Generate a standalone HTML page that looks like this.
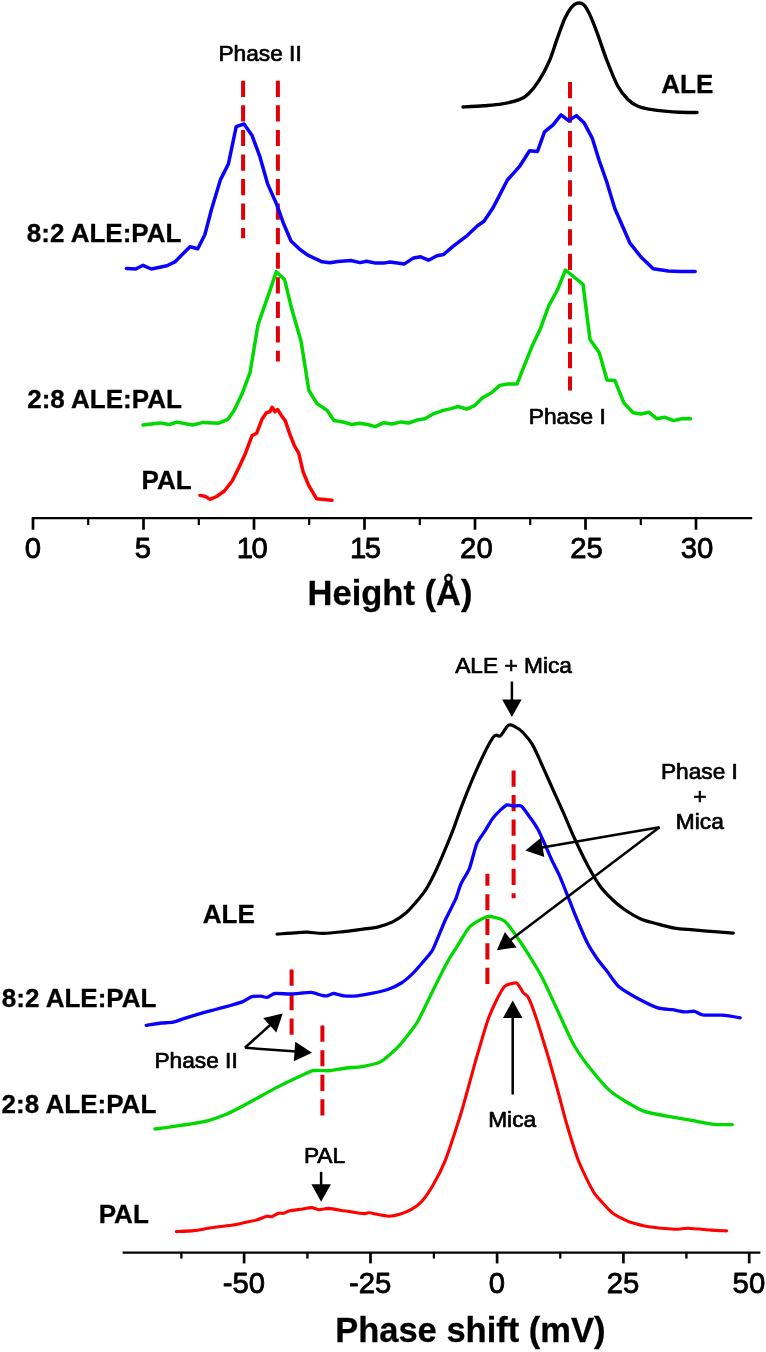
<!DOCTYPE html>
<html lang="en">
<head>
<meta charset="utf-8">
<title>AFM height and phase-shift histograms</title>
<style>
html,body{margin:0;padding:0;background:#fff;}
body{width:766px;height:1352px;overflow:hidden;}
svg{display:block;}
svg text{font-family:"Liberation Sans",Arial,Helvetica,sans-serif;fill:#000;}
</style>
</head>
<body>
<svg width="766" height="1352" viewBox="0 0 766 1352">
<rect x="0" y="0" width="766" height="1352" fill="#fff"/>
<line x1="243.1" y1="80.8" x2="243.1" y2="238.2" stroke="#e00008" stroke-width="4.0" stroke-dasharray="16.2 8.35" stroke-dashoffset="0"/>
<line x1="277.9" y1="80.8" x2="277.9" y2="361.5" stroke="#e00008" stroke-width="4.0" stroke-dasharray="16.2 8.35" stroke-dashoffset="0"/>
<line x1="570.0" y1="82.0" x2="570.0" y2="390.5" stroke="#e00008" stroke-width="4.0" stroke-dasharray="16.2 8.35" stroke-dashoffset="0"/>
<path d="M463.0,107.0 C466.5,106.8 477.5,106.2 484.0,105.7 C490.5,105.2 496.3,104.9 502.2,103.9 C508.1,102.9 514.9,101.4 519.2,99.7 C523.6,98.0 525.0,97.1 528.3,94.0 C531.6,90.9 535.3,86.3 538.8,80.9 C542.3,75.5 546.2,68.3 549.2,61.4 C552.2,54.4 554.4,46.4 557.0,39.2 C559.6,32.0 562.5,23.6 564.9,18.3 C567.3,13.0 569.3,9.8 571.4,7.3 C573.5,4.8 575.3,3.5 577.4,3.1 C579.5,2.7 581.7,2.8 583.7,4.7 C585.8,6.6 587.4,9.5 589.7,14.4 C592.0,19.3 594.7,26.3 597.5,33.9 C600.3,41.5 603.3,51.2 606.7,60.0 C610.1,68.8 614.4,79.8 618.0,86.5 C621.6,93.2 625.2,96.7 628.5,100.0 C631.8,103.3 634.6,104.8 638.0,106.3 C641.4,107.8 644.0,108.2 648.8,109.1 C653.6,109.9 661.8,110.9 667.0,111.4 C672.2,111.9 675.0,112.0 680.0,112.2 C685.0,112.4 694.2,112.5 697.0,112.5" fill="none" stroke="#000000" stroke-width="3.4" stroke-linejoin="round" stroke-linecap="round"/>
<polyline points="126.5,268.4 135.7,269.0 143.0,265.3 151.3,269.0 167.0,265.8 174.8,261.9 190.0,246.7 197.8,248.8 204.9,234.5 211.4,209.7 220.5,179.6 228.4,164.0 236.2,126.6 244.0,124.0 251.9,135.2 259.7,156.1 267.5,183.6 276.7,204.4 283.2,222.7 291.0,241.0 300.0,249.5 307.8,255.2 322.2,261.8 330.0,262.8 337.9,261.5 350.9,260.5 360.0,262.6 366.6,261.3 375.7,263.1 383.6,263.1 390.0,262.0 404.4,263.9 413.6,257.9 420.6,256.8 428.5,260.2 437.0,255.8 443.6,254.5 452.7,246.6 465.8,236.7 477.5,225.7 484.0,221.3 493.2,207.5 500.0,194.4 507.4,180.0 520.0,165.8 529.6,150.7 537.5,151.4 544.5,131.9 553.1,124.8 561.0,114.9 568.6,120.6 576.4,115.6 584.0,122.7 592.1,137.8 599.2,160.5 607.0,182.7 614.8,208.5 630.0,243.2 641.0,257.0 653.2,268.8 668.4,270.9 680.0,271.6 695.2,271.4" fill="none" stroke="#0a00ff" stroke-width="3.5" stroke-linejoin="round" stroke-linecap="round"/>
<polyline points="143.0,425.0 160.0,422.9 169.2,424.5 177.0,422.1 192.7,425.0 203.1,422.4 218.8,423.2 227.9,419.3 234.4,410.1 242.3,393.2 250.1,372.3 257.9,325.3 263.2,309.6 269.7,291.3 276.2,271.7 284.6,279.6 291.9,309.6 301.0,340.9 308.9,390.5 317.0,403.6 327.0,410.2 334.0,420.6 342.6,421.9 351.8,424.5 359.6,423.2 367.4,424.5 375.3,426.6 383.6,422.7 392.2,424.0 400.9,421.9 408.7,423.0 417.0,420.1 424.9,418.8 434.0,413.6 443.2,410.4 451.0,408.6 458.0,406.5 466.7,409.1 474.5,405.7 482.3,397.9 491.5,392.7 499.8,385.4 507.8,384.0 517.0,384.0 524.8,364.4 532.6,344.9 540.5,328.4 548.8,305.7 557.4,290.0 565.5,270.0 583.0,284.3 590.0,339.5 599.2,352.5 607.0,380.1 614.9,380.6 624.0,403.1 633.2,412.7 641.0,414.0 648.8,412.2 656.7,418.7 664.5,417.2 673.6,420.6 682.8,418.5 690.6,418.7" fill="none" stroke="#00d900" stroke-width="3.5" stroke-linejoin="round" stroke-linecap="round"/>
<polyline points="200.0,495.4 205.5,496.5 210.0,499.4 216.6,496.5 224.4,491.0 232.2,481.0 238.8,467.7 245.5,453.2 252.1,435.5 256.6,433.3 262.1,418.9 266.6,412.6 269.9,411.7 272.1,407.3 275.0,411.7 277.6,409.5 281.0,414.9 285.4,421.1 289.9,434.4 294.3,445.5 298.7,453.2 303.2,472.1 308.7,485.4 316.5,498.7 324.3,499.4 332.0,500.3" fill="none" stroke="#ff0000" stroke-width="3.5" stroke-linejoin="round" stroke-linecap="round"/>
<line x1="31.8" y1="518.1" x2="752.2" y2="518.1" stroke="#000" stroke-width="2.3"/>
<line x1="33.0" y1="518.1" x2="33.0" y2="529.7" stroke="#000" stroke-width="2.7"/>
<text transform="translate(32.8,558.3) scale(1.0,1.03)" font-size="29.3" stroke="#000" stroke-width="0.8" stroke-linejoin="round" text-anchor="middle">0</text>
<line x1="143.5" y1="518.1" x2="143.5" y2="529.7" stroke="#000" stroke-width="2.7"/>
<text transform="translate(142.8,558.3) scale(1.0,1.03)" font-size="29.3" stroke="#000" stroke-width="0.8" stroke-linejoin="round" text-anchor="middle">5</text>
<line x1="254.0" y1="518.1" x2="254.0" y2="529.7" stroke="#000" stroke-width="2.7"/>
<text letter-spacing="-1.5" transform="translate(251.6,558.3) scale(1.0,1.03)" font-size="29.3" stroke="#000" stroke-width="0.8" stroke-linejoin="round" text-anchor="middle">10</text>
<line x1="364.5" y1="518.1" x2="364.5" y2="529.7" stroke="#000" stroke-width="2.7"/>
<text letter-spacing="-1.5" transform="translate(364.7,558.3) scale(1.0,1.03)" font-size="29.3" stroke="#000" stroke-width="0.8" stroke-linejoin="round" text-anchor="middle">15</text>
<line x1="475.0" y1="518.1" x2="475.0" y2="529.7" stroke="#000" stroke-width="2.7"/>
<text transform="translate(476.4,558.3) scale(1.0,1.03)" font-size="29.3" stroke="#000" stroke-width="0.8" stroke-linejoin="round" text-anchor="middle">20</text>
<line x1="585.5" y1="518.1" x2="585.5" y2="529.7" stroke="#000" stroke-width="2.7"/>
<text transform="translate(586.6,558.3) scale(1.0,1.03)" font-size="29.3" stroke="#000" stroke-width="0.8" stroke-linejoin="round" text-anchor="middle">25</text>
<line x1="696.0" y1="518.1" x2="696.0" y2="529.7" stroke="#000" stroke-width="2.7"/>
<text transform="translate(697.0,558.3) scale(1.0,1.03)" font-size="29.3" stroke="#000" stroke-width="0.8" stroke-linejoin="round" text-anchor="middle">30</text>
<line x1="88.2" y1="518.1" x2="88.2" y2="525.1" stroke="#000" stroke-width="2.2"/>
<line x1="198.8" y1="518.1" x2="198.8" y2="525.1" stroke="#000" stroke-width="2.2"/>
<line x1="309.2" y1="518.1" x2="309.2" y2="525.1" stroke="#000" stroke-width="2.2"/>
<line x1="419.8" y1="518.1" x2="419.8" y2="525.1" stroke="#000" stroke-width="2.2"/>
<line x1="530.2" y1="518.1" x2="530.2" y2="525.1" stroke="#000" stroke-width="2.2"/>
<line x1="640.8" y1="518.1" x2="640.8" y2="525.1" stroke="#000" stroke-width="2.2"/>
<text transform="translate(390,605) scale(1.0,1.0)" font-size="34.5" font-weight="bold" stroke="#000" stroke-width="0.3" stroke-linejoin="round" text-anchor="middle">Height (Å)</text>
<text transform="translate(218.4,60.5) scale(1.015,0.98)" font-size="22.4" stroke="#000" stroke-width="0.7" stroke-linejoin="round" text-anchor="start">Phase II</text>
<text transform="translate(528.8,424) scale(1.015,0.98)" font-size="22.4" stroke="#000" stroke-width="0.7" stroke-linejoin="round" text-anchor="start">Phase I</text>
<text transform="translate(26.8,241.7) scale(1.005,1.0)" font-size="25.9" font-weight="bold" stroke="#000" stroke-width="0.3" stroke-linejoin="round" text-anchor="start">8:2 ALE:PAL</text>
<text transform="translate(27.2,407.5) scale(1.005,1.0)" font-size="25.9" font-weight="bold" stroke="#000" stroke-width="0.3" stroke-linejoin="round" text-anchor="start">2:8 ALE:PAL</text>
<text transform="translate(141.6,489.3) scale(1.005,1.0)" font-size="25.9" font-weight="bold" stroke="#000" stroke-width="0.3" stroke-linejoin="round" text-anchor="start">PAL</text>
<text transform="translate(661.2,93.3) scale(1.005,1.0)" font-size="25.9" font-weight="bold" stroke="#000" stroke-width="0.3" stroke-linejoin="round" text-anchor="start">ALE</text>
<line x1="513.6" y1="770.5" x2="513.6" y2="898.3" stroke="#e00008" stroke-width="4.0" stroke-dasharray="16.2 8.35" stroke-dashoffset="0"/>
<line x1="487.4" y1="873.8" x2="487.4" y2="984" stroke="#e00008" stroke-width="4.0" stroke-dasharray="16.2 8.35" stroke-dashoffset="4.2"/>
<line x1="291.6" y1="969.5" x2="291.6" y2="1034.8" stroke="#e00008" stroke-width="4.0" stroke-dasharray="16.2 8.35" stroke-dashoffset="0"/>
<line x1="322.4" y1="1025.6" x2="322.4" y2="1115.5" stroke="#e00008" stroke-width="4.0" stroke-dasharray="16.2 8.35" stroke-dashoffset="0"/>
<path d="M277.0,934.2 C279.8,934.0 289.0,933.1 294.0,932.8 C299.0,932.5 302.1,932.1 307.0,932.2 C311.9,932.3 317.5,933.5 323.6,933.4 C329.7,933.3 337.2,932.3 343.6,931.6 C350.0,930.9 356.2,930.0 361.8,929.3 C367.4,928.5 372.3,928.4 377.5,927.1 C382.7,925.8 388.4,924.0 393.2,921.6 C398.0,919.2 402.3,916.2 406.2,912.8 C410.1,909.4 413.4,905.2 416.7,901.4 C420.0,897.5 422.8,894.5 425.8,889.7 C428.8,884.9 431.8,879.0 434.9,872.7 C437.9,866.4 441.1,859.0 444.1,851.8 C447.2,844.6 450.2,837.3 453.2,829.6 C456.1,821.9 457.8,816.1 461.8,805.8 C465.8,795.5 472.2,779.3 477.4,767.9 C482.6,756.5 489.3,742.8 493.1,737.4 C496.9,732.0 497.9,737.8 500.4,735.8 C502.9,733.8 505.8,726.9 508.3,725.4 C510.8,723.9 512.8,725.7 515.3,726.9 C517.8,728.1 520.3,729.8 523.1,732.7 C525.9,735.6 529.0,738.8 532.3,744.4 C535.6,750.0 539.2,759.0 542.7,766.6 C546.2,774.2 549.7,782.3 553.2,790.1 C556.7,797.9 559.9,804.8 563.6,813.2 C567.3,821.6 571.4,831.7 575.5,840.5 C579.6,849.3 583.9,858.4 588.0,866.0 C592.1,873.6 596.0,880.4 600.0,886.0 C604.0,891.6 608.3,895.6 612.3,899.5 C616.3,903.4 619.4,906.0 624.1,909.2 C628.8,912.4 634.9,916.3 640.3,918.7 C645.7,921.1 650.9,922.1 656.6,923.7 C662.3,925.3 668.2,927.1 674.3,928.1 C680.4,929.1 686.8,929.3 693.4,929.9 C700.0,930.5 707.5,931.2 714.1,931.7 C720.8,932.2 730.1,932.9 733.3,933.1" fill="none" stroke="#000000" stroke-width="3.2" stroke-linejoin="round" stroke-linecap="round"/>
<path d="M146.2,1025.4 C147.7,1025.2 158.6,1023.3 161.3,1023.0 C164.0,1022.7 170.6,1022.7 173.1,1022.2 C175.6,1021.7 183.5,1018.6 186.1,1017.8 C188.7,1017.0 196.4,1014.7 199.2,1013.9 C201.9,1013.1 210.6,1010.8 213.6,1010.0 C216.6,1009.2 226.3,1006.6 229.2,1005.8 C232.1,1005.0 240.1,1002.8 242.3,1001.9 C244.5,1001.0 249.6,997.5 251.4,996.9 C253.2,996.3 258.9,996.1 260.5,996.1 C262.1,996.1 265.7,997.7 267.1,997.4 C268.5,997.1 272.7,993.8 274.9,993.5 C277.1,993.2 286.6,994.0 289.3,994.0 C292.0,994.0 300.1,993.2 302.3,993.0 C304.5,992.8 309.5,992.2 311.5,992.4 C313.5,992.6 320.3,995.1 321.9,995.4 C323.4,995.7 325.8,996.0 327.0,995.8 C328.2,995.6 331.8,993.5 333.5,993.5 C335.2,993.5 341.5,995.6 343.9,995.8 C346.2,996.0 354.1,996.1 357.0,995.8 C359.9,995.5 369.6,993.9 372.7,993.2 C375.8,992.6 385.4,990.3 388.3,989.3 C391.2,988.3 399.0,984.5 401.4,983.0 C403.8,981.5 409.7,976.4 411.8,974.4 C413.9,972.4 420.2,965.2 422.3,962.7 C424.4,960.2 430.4,954.1 432.7,949.8 C435.0,945.5 443.0,925.0 445.3,920.0 C447.6,915.0 453.8,903.3 455.4,899.7 C457.0,896.1 459.5,887.1 460.9,884.0 C462.3,880.9 467.9,872.3 469.5,868.3 C471.1,864.3 475.0,847.9 476.6,844.1 C478.2,840.3 483.6,833.2 485.2,830.7 C486.8,828.2 490.8,821.0 492.3,819.0 C493.8,817.0 498.6,811.8 500.1,810.4 C501.6,809.0 505.8,805.3 507.1,804.9 C508.4,804.5 512.0,805.9 513.4,806.0 C514.8,806.1 519.8,805.1 521.4,806.2 C523.0,807.3 528.0,814.7 529.7,817.0 C531.4,819.3 536.4,826.6 538.0,829.5 C539.6,832.4 544.0,842.4 545.4,845.5 C546.8,848.6 550.5,857.4 552.0,860.5 C553.5,863.6 558.4,873.2 560.0,876.8 C561.6,880.4 566.4,892.6 567.9,896.4 C569.4,900.2 573.3,910.4 575.2,915.0 C577.1,919.6 585.1,938.4 587.3,942.8 C589.5,947.1 595.0,955.6 597.0,958.5 C599.0,961.4 604.8,968.5 607.0,971.3 C609.2,974.1 615.6,983.8 618.7,986.5 C621.8,989.2 634.4,996.6 638.3,998.7 C642.2,1000.8 654.5,1006.8 657.9,1007.9 C661.3,1009.0 669.7,1009.3 672.3,1009.7 C674.9,1010.1 681.8,1011.6 684.0,1011.8 C686.2,1012.0 692.7,1011.0 694.5,1011.3 C696.3,1011.6 699.6,1014.5 702.3,1014.9 C705.0,1015.3 718.1,1014.9 721.9,1015.2 C725.7,1015.5 738.4,1017.5 740.2,1017.8" fill="none" stroke="#0a00ff" stroke-width="3.3" stroke-linejoin="round" stroke-linecap="round"/>
<path d="M155.0,1129.0 C157.1,1128.7 172.1,1126.6 175.7,1126.1 C179.3,1125.6 188.1,1124.3 191.3,1123.8 C194.5,1123.3 204.0,1121.7 207.4,1120.8 C210.8,1119.9 222.3,1115.9 225.7,1114.5 C229.1,1113.1 238.0,1108.5 241.4,1106.7 C244.8,1104.9 256.1,1098.8 259.7,1096.8 C263.3,1094.8 274.2,1088.8 277.9,1086.9 C281.5,1085.0 292.7,1079.6 296.2,1078.0 C299.7,1076.4 309.8,1071.4 313.2,1070.7 C316.6,1070.0 326.9,1071.0 330.2,1070.7 C333.5,1070.4 342.8,1068.4 346.0,1068.0 C349.2,1067.6 358.8,1067.2 362.2,1066.6 C365.6,1066.0 376.8,1063.9 380.5,1061.9 C384.2,1059.9 395.2,1050.1 398.8,1046.2 C402.4,1042.3 413.6,1028.2 417.0,1022.7 C420.4,1017.2 429.6,997.3 432.7,991.0 C435.8,984.7 446.1,964.4 448.5,960.0 C450.9,955.6 454.9,950.0 457.0,946.7 C459.1,943.4 466.5,930.1 469.5,927.1 C472.5,924.1 483.9,917.2 487.4,916.6 C490.9,916.0 501.5,918.7 504.8,921.2 C508.1,923.7 517.7,938.1 520.3,941.8 C522.9,945.5 528.7,954.8 531.0,958.5 C533.3,962.2 540.1,973.6 542.9,979.0 C545.6,984.4 555.4,1005.9 558.5,1012.5 C561.6,1019.1 570.6,1039.3 573.9,1045.0 C577.1,1050.7 587.4,1065.0 591.0,1069.5 C594.6,1074.0 606.0,1087.2 609.5,1090.4 C613.0,1093.7 623.0,1099.9 626.5,1102.0 C630.0,1104.1 640.0,1109.9 644.3,1111.4 C648.6,1112.9 664.8,1115.8 669.7,1116.7 C674.6,1117.6 688.8,1119.9 693.2,1120.7 C697.6,1121.5 710.1,1124.0 714.0,1124.4 C717.9,1124.8 730.5,1124.6 732.3,1124.6" fill="none" stroke="#00d900" stroke-width="3.3" stroke-linejoin="round" stroke-linecap="round"/>
<path d="M176.3,1231.6 C178.1,1231.5 190.4,1231.0 193.8,1230.6 C197.2,1230.2 206.8,1228.4 210.7,1227.8 C214.6,1227.2 229.4,1225.5 232.8,1225.0 C236.2,1224.5 242.3,1223.0 244.7,1222.5 C247.1,1222.0 254.4,1220.7 256.6,1220.1 C258.8,1219.5 265.2,1216.5 266.7,1216.2 C268.2,1215.9 270.6,1217.0 271.8,1216.7 C273.0,1216.4 277.4,1213.5 278.6,1213.2 C279.8,1212.9 282.6,1213.5 283.7,1213.3 C284.8,1213.1 288.0,1211.2 289.7,1210.8 C291.4,1210.4 298.3,1209.6 300.5,1209.3 C302.7,1209.0 309.5,1207.6 311.4,1207.6 C313.3,1207.6 317.6,1209.6 319.3,1209.7 C321.0,1209.8 326.3,1208.4 328.4,1208.4 C330.5,1208.5 338.5,1209.9 340.2,1210.2 C341.9,1210.5 343.3,1210.7 345.7,1211.0 C348.1,1211.3 361.5,1213.4 363.9,1213.6 C366.2,1213.8 366.7,1212.5 369.2,1212.8 C371.7,1213.1 385.6,1216.1 388.7,1216.2 C391.8,1216.3 398.3,1214.8 400.5,1214.1 C402.7,1213.4 408.8,1210.9 410.9,1209.7 C413.0,1208.5 419.2,1204.3 421.4,1201.8 C423.6,1199.3 430.8,1188.9 433.1,1184.9 C435.5,1180.9 442.7,1166.8 444.9,1161.4 C447.1,1156.0 453.5,1136.8 455.3,1131.3 C457.1,1125.8 461.0,1113.4 463.1,1106.2 C465.2,1099.0 473.6,1067.8 476.1,1059.2 C478.6,1050.6 485.8,1026.0 487.9,1020.0 C490.0,1014.0 495.3,1002.6 497.0,999.2 C498.7,995.8 502.9,987.7 504.9,986.1 C506.9,984.5 514.8,982.4 516.6,983.0 C518.4,983.6 522.0,991.2 523.1,992.6 C524.2,994.0 526.8,994.8 527.9,996.8 C529.0,998.8 533.1,1009.0 534.4,1012.7 C535.7,1016.4 539.8,1029.2 541.2,1033.8 C542.6,1038.4 547.2,1053.2 548.8,1058.8 C550.4,1064.4 555.8,1083.2 557.5,1089.6 C559.2,1095.9 564.2,1115.4 566.2,1122.3 C568.2,1129.2 575.7,1153.2 577.7,1158.8 C579.7,1164.4 584.6,1174.6 586.3,1178.1 C588.0,1181.6 593.2,1191.5 595.0,1194.2 C596.8,1196.9 602.9,1203.1 604.6,1205.0 C606.3,1206.9 610.8,1211.7 612.3,1212.9 C613.8,1214.2 618.3,1216.6 620.0,1217.5 C621.7,1218.4 626.7,1221.1 629.6,1222.0 C632.5,1222.9 644.3,1226.0 648.8,1226.7 C653.3,1227.4 671.0,1229.1 674.9,1229.3 C678.8,1229.5 684.2,1228.2 687.9,1228.3 C691.5,1228.4 707.5,1229.8 711.4,1230.1 C715.3,1230.4 725.1,1230.8 726.6,1230.9" fill="none" stroke="#ff0000" stroke-width="3.1" stroke-linejoin="round" stroke-linecap="round"/>
<line x1="122.6" y1="1252.6" x2="760.4" y2="1252.6" stroke="#000" stroke-width="2.3"/>
<line x1="244.1" y1="1252.6" x2="244.1" y2="1263.3999999999999" stroke="#000" stroke-width="2.7"/>
<text transform="translate(243.8,1292.6) scale(1.0,1.03)" font-size="29.3" stroke="#000" stroke-width="0.8" stroke-linejoin="round" text-anchor="middle">-50</text>
<line x1="370.5" y1="1252.6" x2="370.5" y2="1263.3999999999999" stroke="#000" stroke-width="2.7"/>
<text transform="translate(370.2,1292.6) scale(1.0,1.03)" font-size="29.3" stroke="#000" stroke-width="0.8" stroke-linejoin="round" text-anchor="middle">-25</text>
<line x1="497.1" y1="1252.6" x2="497.1" y2="1263.3999999999999" stroke="#000" stroke-width="2.7"/>
<text transform="translate(496.8,1292.6) scale(1.0,1.03)" font-size="29.3" stroke="#000" stroke-width="0.8" stroke-linejoin="round" text-anchor="middle">0</text>
<line x1="623.4" y1="1252.6" x2="623.4" y2="1263.3999999999999" stroke="#000" stroke-width="2.7"/>
<text transform="translate(623.1,1292.6) scale(1.0,1.03)" font-size="29.3" stroke="#000" stroke-width="0.8" stroke-linejoin="round" text-anchor="middle">25</text>
<line x1="749.2" y1="1252.6" x2="749.2" y2="1263.3999999999999" stroke="#000" stroke-width="2.7"/>
<text transform="translate(748.9,1292.6) scale(1.0,1.03)" font-size="29.3" stroke="#000" stroke-width="0.8" stroke-linejoin="round" text-anchor="middle">50</text>
<line x1="181.4" y1="1252.6" x2="181.4" y2="1258.6" stroke="#000" stroke-width="2.3"/>
<line x1="307.4" y1="1252.6" x2="307.4" y2="1258.6" stroke="#000" stroke-width="2.3"/>
<line x1="433.9" y1="1252.6" x2="433.9" y2="1258.6" stroke="#000" stroke-width="2.3"/>
<line x1="560.3" y1="1252.6" x2="560.3" y2="1258.6" stroke="#000" stroke-width="2.3"/>
<line x1="686.4" y1="1252.6" x2="686.4" y2="1258.6" stroke="#000" stroke-width="2.3"/>
<text transform="translate(470.3,1342.3) scale(1.0,1.0)" font-size="34.5" font-weight="bold" stroke="#000" stroke-width="0.3" stroke-linejoin="round" text-anchor="middle">Phase shift (mV)</text>
<text transform="translate(202.7,923.1) scale(1.005,1.0)" font-size="25.9" font-weight="bold" stroke="#000" stroke-width="0.3" stroke-linejoin="round" text-anchor="start">ALE</text>
<text transform="translate(1.8,1007) scale(1.005,1.0)" font-size="25.9" font-weight="bold" stroke="#000" stroke-width="0.3" stroke-linejoin="round" text-anchor="start">8:2 ALE:PAL</text>
<text transform="translate(1.6,1113.2) scale(1.005,1.0)" font-size="25.9" font-weight="bold" stroke="#000" stroke-width="0.3" stroke-linejoin="round" text-anchor="start">2:8 ALE:PAL</text>
<text transform="translate(98.7,1222.9) scale(1.005,1.0)" font-size="25.9" font-weight="bold" stroke="#000" stroke-width="0.3" stroke-linejoin="round" text-anchor="start">PAL</text>
<text transform="translate(455.2,672.7) scale(1.015,0.98)" font-size="22.4" stroke="#000" stroke-width="0.7" stroke-linejoin="round" text-anchor="start">ALE + Mica</text>
<text transform="translate(660.9,778.7) scale(1.015,0.98)" font-size="22.4" stroke="#000" stroke-width="0.7" stroke-linejoin="round" text-anchor="start">Phase I</text>
<text transform="translate(693.3,803.6) scale(1.015,0.98)" font-size="22.4" stroke="#000" stroke-width="0.7" stroke-linejoin="round" text-anchor="start">+</text>
<text transform="translate(675.8,829.1) scale(1.015,0.98)" font-size="22.4" stroke="#000" stroke-width="0.7" stroke-linejoin="round" text-anchor="start">Mica</text>
<text transform="translate(154.4,1067.5) scale(1.015,0.98)" font-size="22.4" stroke="#000" stroke-width="0.7" stroke-linejoin="round" text-anchor="start">Phase II</text>
<text transform="translate(488.2,1127.1) scale(1.015,0.98)" font-size="22.4" stroke="#000" stroke-width="0.7" stroke-linejoin="round" text-anchor="start">Mica</text>
<text transform="translate(303.9,1163.4) scale(1.015,0.98)" font-size="22.4" stroke="#000" stroke-width="0.7" stroke-linejoin="round" text-anchor="start">PAL</text>
<line x1="511.9" y1="681.5" x2="511.9" y2="701.5" stroke="#000" stroke-width="2.5"/><polygon points="511.9,717.0 502.1,699.5 521.6,699.5" fill="#000"/>
<line x1="659.5" y1="827.2" x2="540.7" y2="847.8" stroke="#000" stroke-width="2.5"/><polygon points="525.4,850.4 541.0,837.8 544.3,857.0" fill="#000"/>
<line x1="659.5" y1="827.2" x2="509.2" y2="940.9" stroke="#000" stroke-width="2.5"/><polygon points="496.8,950.2 504.9,931.9 516.6,947.4" fill="#000"/>
<line x1="244.9" y1="1047.8" x2="271.2" y2="1024.0" stroke="#000" stroke-width="2.5"/><polygon points="282.7,1013.6 276.3,1032.6 263.2,1018.1" fill="#000"/>
<line x1="244.9" y1="1047.8" x2="296.5" y2="1051.6" stroke="#000" stroke-width="2.5"/><polygon points="312.0,1052.8 293.8,1061.2 295.3,1041.8" fill="#000"/>
<line x1="512.7" y1="1094.5" x2="512.7" y2="1016.0" stroke="#000" stroke-width="2.5"/><polygon points="512.7,1000.5 522.5,1018.0 503.0,1018.0" fill="#000"/>
<line x1="321.1" y1="1171.8" x2="321.1" y2="1186.3" stroke="#000" stroke-width="2.5"/><polygon points="321.1,1201.8 311.4,1184.3 330.9,1184.3" fill="#000"/>
</svg>
</body>
</html>
